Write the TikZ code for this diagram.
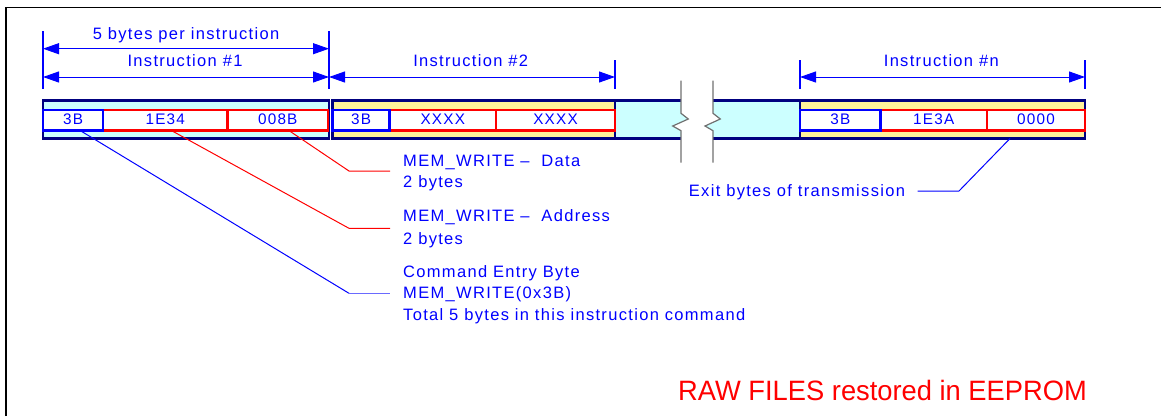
\documentclass[tikz,border=0pt]{standalone}
\usepackage{fontspec}
\setmainfont{Liberation Sans}
\newfontfamily\lblfont[LetterSpace=8]{Liberation Sans}
\usetikzlibrary{arrows.meta,calc}
\definecolor{navy}{HTML}{000080}
\definecolor{cyanfill}{HTML}{CCFFFF}
\definecolor{yellowfill}{HTML}{FFF29A}
\definecolor{txtblue}{HTML}{0000FF}
\definecolor{lightblue}{HTML}{6A6AFF}
\definecolor{txtred}{HTML}{FF0000}
\definecolor{breakgray}{HTML}{707070}

\begin{document}
\begin{tikzpicture}[x=1pt,y=-1pt,
  lbl/.style={font=\lblfont\fontsize{16.5}{19}\selectfont, text=txtblue, inner sep=0, anchor=base west},
  dimlbl/.style={lbl, anchor=base},
  outerbox/.style={draw=navy, line width=2.6pt, inner sep=0, outer sep=0, minimum height=37.8pt},
  cellbox/.style={draw, line width=2.2pt, fill=white, inner sep=0, outer sep=0,
    minimum height=20.5pt, text height=11pt, text depth=2.5pt,
    font=\lblfont\fontsize{15.3}{17}\selectfont, text=txtblue},
  bytecell/.style={cellbox, draw=txtblue},
  wordcell/.style={cellbox, draw=txtred},
  tickline/.style={draw=txtblue, line width=1.3pt},
  dimline/.style={draw=txtblue, line width=1pt,
    {Triangle[length=16pt,width=11pt]}-{Triangle[length=16pt,width=11pt]}},
  leadblue/.style={draw=txtblue, line width=1pt},
  leadred/.style={draw=txtred, line width=1pt},
  breakline/.style={draw=breakgray, line width=1.2pt},
  gapedge/.style={draw=navy, line width=2.6pt}
]
\useasboundingbox (0,0) rectangle (1161,416);

% page frame (top and left edges)
\draw[line width=1.4pt] (6,416) -- (6,7.5) -- (1161,7.5);

% ---- instruction blocks ----
\node[outerbox, fill=cyanfill,   minimum width=286pt]   (i1) at (186,119.6) {};
\node[outerbox, fill=yellowfill, minimum width=282.5pt] (i2) at (473.75,119.6) {};
\node[outerbox, fill=yellowfill, minimum width=285pt]   (in) at (942.5,119.6) {};

% skipped instructions: cyan strip with break marks
\fill[cyanfill] (615,100.7) -- (681,100.7) -- (681,113.3) -- (688.3,119) -- (672.7,126)
  -- (681,130.7) -- (681,138.5) -- (615,138.5) -- cycle;
\fill[cyanfill] (713,100.7) -- (800,100.7) -- (800,138.5) -- (713,138.5) -- (713,130.7)
  -- (705,126) -- (720.3,119) -- (713,113.3) -- cycle;
\draw[gapedge] (615,100.7) -- (681,100.7) (615,138.5) -- (681,138.5);
\draw[gapedge] (713,100.7) -- (800,100.7) (713,138.5) -- (800,138.5);
\draw[gapedge] (615,100.7) -- (615,138.5) (800,100.7) -- (800,138.5);
\draw[breakline] (681,80.7) -- (681,113.3) -- (688.3,119) -- (672.7,126) -- (681,130.7) -- (681,162.7);
\draw[breakline] (713,80.7) -- (713,113.3) -- (720.3,119) -- (705,126) -- (713,130.7) -- (713,162.7);

% byte cells, instruction #1
\node[wordcell, minimum width=124.5pt] (c1b) at (165.25,120.2) {1E34};
\node[wordcell, minimum width=100.5pt] (c1c) at (277.75,120.2) {008B};
\node[bytecell, minimum width=60pt]    (c1a) at (73,120.2) {3B};
% byte cells, instruction #2
\node[wordcell, minimum width=106.5pt] (c2b) at (442.75,120.2) {XXXX};
\node[wordcell, minimum width=119pt]   (c2c) at (555.5,120.2) {XXXX};
\node[bytecell, minimum width=57pt]    (c2a) at (361,120.2) {3B};
% byte cells, instruction #n
\node[wordcell, minimum width=106.5pt] (cnb) at (933.75,120.2) {1E3A};
\node[wordcell, minimum width=98pt]    (cnc) at (1036,120.2) {0000};
\node[bytecell, minimum width=80.5pt]  (cna) at (840.25,120.2) {3B};

% ---- dimension lines ----
\coordinate (k0) at (43,31);   \coordinate (k0b) at (43,89);
\coordinate (k1) at (329,31);  \coordinate (k1b) at (329,89);
\coordinate (k2) at (615,60);  \coordinate (k2b) at (615,89);
\coordinate (k3) at (800,60);  \coordinate (k3b) at (800,89);
\coordinate (k4) at (1085,60); \coordinate (k4b) at (1085,89);
\draw[tickline] (k0) -- (k0b);
\draw[tickline] (k1) -- (k1b);
\draw[tickline] (k2) -- (k2b);
\draw[tickline] (k3) -- (k3b);
\draw[tickline] (k4) -- (k4b);

\coordinate (a0) at (43,48.7);  \coordinate (a1) at (329,48.7);
\coordinate (b0) at (43,77);    \coordinate (b1) at (329,77);
\coordinate (b2) at (615,77);   \coordinate (b3) at (800,77);
\coordinate (b4) at (1085,77);
\draw[dimline] (a0) -- (a1);
\draw[dimline] (b0) -- (b1);
\draw[dimline] (b1) -- (b2);
\draw[dimline] (b3) -- (b4);

\node[dimlbl] (d0) at (186,39)    {5 bytes per instruction};
\node[dimlbl] (d1) at (185,66)    {Instruction \#1};
\node[dimlbl] (d2) at (470.7,66)  {Instruction \#2};
\node[dimlbl] (dn) at (941.3,66)  {Instruction \#n};

% ---- annotations ----
\node[lbl] (t1a) at (403,166)   {MEM\_WRITE –\ \ Data};
\node[lbl] (t1b) at (403,187.3) {2 bytes};
\node[lbl] (t2a) at (403,221.7) {MEM\_WRITE –\ \ Address};
\node[lbl] (t2b) at (403,244)   {2 bytes};
\node[lbl] (t3a) at (403,277.5) {Command Entry Byte};
\node[lbl] (t3b) at (403,298.5) {MEM\_WRITE(0x3B)};
\node[lbl] (t3c) at (403,320)   {Total 5 bytes in this instruction command};
\node[lbl] (tx)  at (688.7,196) {Exit bytes of transmission};

\coordinate (m1) at (349,171);   \coordinate (e1) at (390,171);
\coordinate (m2) at (349,228.3); \coordinate (e2) at (390,228.3);
\coordinate (m3) at (349,293.3); \coordinate (e3) at (390,293.3);
\coordinate (mx) at (959,191);   \coordinate (ex) at (917.7,191);

\draw[leadred]  ($(c1c.south)+(11,0)$) -- (m1) -- (e1);
\draw[leadred]  ($(c1b.south)+(6,0)$)  -- (m2) -- (e2);
\draw[leadblue] ($(c1a.south)+(7,0)$)  -- (m3);
\draw[leadblue, draw=lightblue, line width=1.3pt] (m3) -- (e3);
\draw[leadblue] ($(in.south)+(67.5,0)$) -- (mx) -- (ex);

% ---- caption ----
\node[font=\fontsize{28}{32}\selectfont, text=txtred, inner sep=0, anchor=base east] (cap)
  at (1087,400) {\scalebox{0.975}[1]{RAW FILES restored in EEPROM}};
\end{tikzpicture}
\end{document}
